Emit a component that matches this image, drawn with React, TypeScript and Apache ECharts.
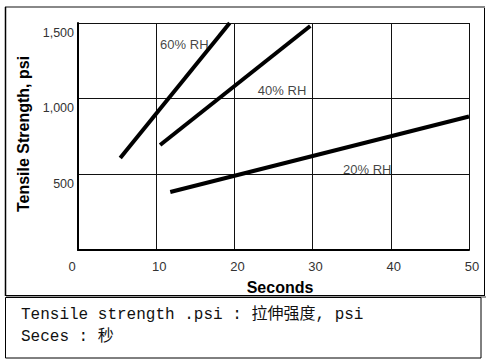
import React, { useEffect, useRef } from "react";
import * as echarts from "echarts";

// Data
const xTicks = [0, 10, 20, 30, 40, 50];
const yTicks = [0, 500, 1000, 1500];
const rh60: [number, number][] = [[5.4, 608], [19.4, 1500]];
const rh40: [number, number][] = [[10.5, 694], [29.7, 1480]];
const rh20: [number, number][] = [[11.8, 383], [50, 882]];
const seriesNames = ["60% RH", "40% RH", "20% RH"];
const labelPoints: [number, number][] = [[10.5, 1355], [23.0, 1057], [33.9, 535]];
const yTitle = "Tensile Strength, psi";
const xTitle = "Seconds";
const noteLines = ["Tensile strength .psi : 拉伸强度, psi", "Seces : 秒"];

const SANS = "'Liberation Sans', Arial, sans-serif";
const MONO = "'Liberation Mono', 'Noto Sans CJK SC', monospace";

export default function App() {
  const ref = useRef<HTMLDivElement>(null);
  useEffect(() => {
    if (!ref.current) return;
    const chart = echarts.init(ref.current, null, { renderer: "svg" });
    const lineSeries = [rh60, rh40, rh20].map((d, i) => ({
      name: seriesNames[i],
      type: "line",
      data: d,
      symbol: "none",
      clip: false,
      lineStyle: { color: "#000", width: 4, cap: "butt" },
      z: 5,
    }));
    chart.setOption({
      animation: false,
      backgroundColor: "#fff",
      grid: { left: 78, top: 23, right: 19, bottom: 114, containLabel: false },
      xAxis: {
        type: "value",
        min: xTicks[0],
        max: xTicks[xTicks.length - 1],
        interval: 10,
        name: xTitle,
        nameLocation: "middle",
        nameGap: 29,
        nameTextStyle: {
          fontFamily: SANS,
          fontSize: 16,
          fontWeight: "bold",
          color: "#000",
          padding: [0, 0, 0, 13],
        },
        axisLine: { show: true, lineStyle: { color: "#000", width: 2 } },
        axisTick: { show: false },
        splitLine: { show: true, lineStyle: { color: "#111", width: 1 } },
        axisLabel: {
          margin: 10,
          formatter: (v: number) => (v === 0 ? `{z|${v}}` : `{n|${v}}`),
          rich: {
            z: { fontFamily: SANS, fontSize: 13, color: "#333", padding: [0, 12, 0, 0] },
            n: { fontFamily: SANS, fontSize: 13, color: "#333", padding: [0, 0, 0, 6] },
          },
        },
      },
      yAxis: {
        type: "value",
        min: yTicks[0],
        max: yTicks[yTicks.length - 1],
        interval: 500,
        name: yTitle,
        nameLocation: "middle",
        nameGap: 43,
        nameTextStyle: {
          fontFamily: SANS,
          fontSize: 16,
          fontWeight: "bold",
          color: "#000",
          padding: [0, 0, 0, 5],
        },
        axisLine: { show: true, lineStyle: { color: "#000", width: 2 } },
        axisTick: { show: false },
        splitLine: { show: true, lineStyle: { color: "#111", width: 1 } },
        axisLabel: {
          margin: 4,
          fontFamily: SANS,
          fontSize: 12.5,
          color: "#333",
          verticalAlign: "top",
          padding: [3, 0, 0, 0],
          formatter: (v: number) => (v === 0 ? "" : v.toLocaleString("en-US")),
        },
      },
      series: [
        ...lineSeries,
        {
          type: "scatter",
          symbolSize: 0,
          data: labelPoints.map((p, i) => ({ value: p, name: seriesNames[i] })),
          label: {
            show: true,
            position: "inside",
            align: "left",
            verticalAlign: "middle",
            formatter: (p: any) => p.name,
            fontFamily: SANS,
            fontSize: 13,
            color: "#111",
          },
          z: 6,
        },
      ],
      graphic: [
        // outer frame
        { type: "line", shape: { x1: 5, y1: 7, x2: 485, y2: 7 }, style: { stroke: "#888", lineWidth: 2 } },
        { type: "line", shape: { x1: 5.5, y1: 7, x2: 5.5, y2: 296 }, style: { stroke: "#000", lineWidth: 1.5 } },
        { type: "line", shape: { x1: 484.5, y1: 8, x2: 484.5, y2: 296 }, style: { stroke: "#000", lineWidth: 1 } },
        { type: "line", shape: { x1: 5, y1: 295.5, x2: 485, y2: 295.5 }, style: { stroke: "#000", lineWidth: 1 } },
        { type: "line", shape: { x1: 6, y1: 297, x2: 486, y2: 297 }, style: { stroke: "#999", lineWidth: 2 } },
        // note box
        { type: "rect", shape: { x: 5.5, y: 297.5, width: 475.5, height: 60.5 }, style: { fill: "none", stroke: "#000", lineWidth: 1 } },
        {
          type: "text",
          x: 21,
          y: 315,
          style: { text: noteLines[0], fontFamily: MONO, fontSize: 16, fill: "#111", verticalAlign: "middle" },
        },
        {
          type: "text",
          x: 21,
          y: 337,
          style: { text: noteLines[1], fontFamily: MONO, fontSize: 16, fill: "#111", verticalAlign: "middle" },
        },
      ],
    });
    return () => chart.dispose();
  }, []);
  return (
    <div
      ref={ref}
      style={{ position: "fixed", left: 0, top: 0, width: 488, height: 364, background: "#fff" }}
    />
  );
}
